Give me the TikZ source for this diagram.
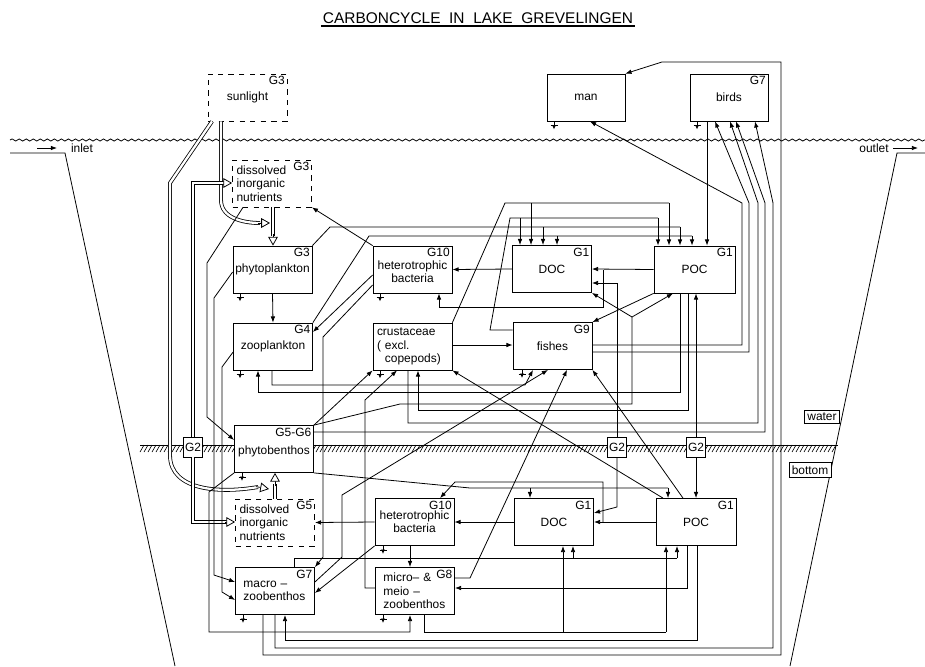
\documentclass[tikz,border=0pt]{standalone}
\usepackage{fontspec}
\setmainfont{Liberation Sans}
\usetikzlibrary{positioning,arrows.meta,decorations.pathmorphing}

\begin{document}
\begin{tikzpicture}[x=0.02cm, y=-0.02cm,
  box/.style={draw, fill=white, minimum width=1.58cm, minimum height=0.94cm, inner sep=1pt, align=center, font=\fontsize{6.8}{7.6}\selectfont},
  leftbox/.style={box, text width=1.42cm, align=left},
  nutbox/.style={leftbox, dashed},
  gtag/.style={label={[anchor=north east, inner sep=1.3pt, font=\fontsize{6.8}{7}\selectfont]north east:#1}},
  g2box/.style={draw, fill=white, minimum width=0.38cm, minimum height=0.4cm, inner sep=0pt, font=\fontsize{6.8}{7}\selectfont},
  lbl/.style={draw, fill=white, inner sep=1.6pt, font=\fontsize{6.8}{7}\selectfont},
  flow/.style={-{Latex[length=3.5pt,width=2.6pt]}, line width=0.45pt},
  wide/.style={double, double distance=1.3pt, line width=0.45pt},
  ophead/.style={-{Triangle[fill=white,length=5pt,width=5.5pt]}, line width=0.45pt},
  every path/.style={line width=0.45pt}]
\useasboundingbox (0,0) rectangle (925,666);

\node[font=\fontsize{8.8}{10}\selectfont, inner sep=1pt] (title) at (478,18) {CARBONCYCLE\ \ IN\ \ LAKE\ \ GREVELINGEN};
\draw[line width=1pt] (title.south west) -- (title.south east);

\draw[decorate, decoration={snake, amplitude=0.6pt, segment length=4pt}] (10,140) -- (925,140);
\draw (140,445) -- (838,445);
\foreach \xx in {140,144,...,832}
  \draw[line width=0.35pt] (\xx,452) -- (\xx+4,445);
\draw (10,153) -- (65,153) -- (175,666);
\draw (925,153) -- (897,153) -- (790,666);

\node[font=\fontsize{6.8}{7}\selectfont] (inlet) at (82,148) {inlet};
\coordinate (inflow) at (37,148);
\draw[flow] (inflow) -- (57,148);
\node[font=\fontsize{6.8}{7}\selectfont] (outlet) at (874,148) {outlet};
\coordinate (outflow) at (918,148);
\draw[flow] (893,148) -- (outflow);
\node[lbl] (water) at (822,417) {water};
\node[lbl] (bottom) at (810,470) {bottom};

\node[box, dashed, gtag=G3] (sun) at (247.5,97.5) {sunlight};
\node[box, minimum width=1.56cm] (man) at (586,97.5) {man};
\node[box, minimum width=1.56cm, gtag=G7] (birds) at (729,97.5) {birds};
\node[nutbox, gtag=G3] (nutw) at (272,183.5) {dissolved\\inorganic\\nutrients};
\node[box, gtag=G3] (phyto) at (272.5,269.5) {phytoplankton};
\node[box, gtag=G10] (bacw) at (412.5,269.5) {\\heterotrophic\\bacteria};
\node[box, gtag=G1] (docw) at (552,269) {DOC};
\node[box, minimum width=1.62cm, gtag=G1] (pocw) at (694.5,269.5) {POC};
\node[box, gtag=G4] (zoo) at (273,346.5) {zooplankton};
\node[leftbox] (crust) at (412.5,346.5) {crustaceae\\( excl.\\\ \ copepods)};
\node[box, gtag=G9] (fish) at (552.5,346) {fishes};
\node[box, gtag=G5-G6] (phytob) at (274,449) {\\phytobenthos};
\node[nutbox, gtag=G5] (nutb) at (275,522.5) {dissolved\\inorganic\\nutrients};
\node[box, gtag=G10] (bacb) at (414.5,522) {heterotrophic\\bacteria};
\node[box, gtag=G1] (docb) at (554,522) {DOC};
\node[box, minimum width=1.6cm, gtag=G1] (pocb) at (696,522) {POC};
\node[leftbox, gtag=G7] (macro) at (275,591) {\ macro --\\\ zoobenthos};
\node[leftbox, gtag=G8] (micro) at (415,591) {\ micro-- \&\\\ meio --\\\ zoobenthos};
\node[g2box] (g2a) at (193,447) {G2};
\node[g2box] (g2b) at (617,447) {G2};
\node[g2box] (g2c) at (696,447) {G2};

\draw[wide] (212,0 |- sun.south) -- (170,183) -- (170,455) to[out=-90,in=190] (258,487);
\draw[ophead] (256,486.6) -- (269,489);
\draw[wide] (221,0 |- sun.south) -- (221,200) to[out=-90,in=180] (260,223);
\draw[ophead] (258,223) -- (270,223);
\draw[wide] (273,0 |- nutw.south) -- (273,236);
\draw[ophead] (273,234) -- (273,0 |- phyto.north);
\draw[wide] (275,0 |- nutb.north) -- (275,484);
\draw[ophead] (275,486) -- (275,0 |- phytob.south);
\draw[wide] (g2a.north) -- (193,183) -- (226,183);
\draw[ophead] (224,183) -- (nutw.west |- 0,183);
\draw[wide] (g2a.south) -- (193,522) -- (227,522);
\draw[ophead] (225,522) -- (nutb.west |- 0,522);

\draw[flow] (phyto.south) -- (zoo.north);
\draw[flow] (bacw.north west) -- (nutw.south east);
\draw[flow] (docw.west) -- (bacw.east);
\draw[flow] (pocw.west) -- (docw.east);
\draw[flow] (birds.south -| 707,0) -- (707,0 |- pocw.north);
\draw (crust.north east) -- (505,203) -- (669,203);
\draw[flow] (531,203) -- (531,0 |- docw.north);
\draw[flow] (669,203) -- (669,0 |- pocw.north);
\draw (fish.west |- 0,330) -- (490,330) -- (510,218) -- (658,218);
\draw[flow] (520,218) -- (520,0 |- docw.north);
\draw[flow] (658,218) -- (658,0 |- pocw.north);
\draw (phyto.north east) -- (330,227) -- (680,227);
\draw[flow] (543,227) -- (543,0 |- docw.north);
\draw[flow] (680,227) -- (680,0 |- pocw.north);
\draw (zoo.north east) -- (369,236) -- (692,236);
\draw[flow] (557,236) -- (557,0 |- docw.north);
\draw[flow] (692,236) -- (692,0 |- pocw.north);
\draw[flow] (bacw.west |- 0,275) -- (zoo.east |- 0,332);
\draw[flow] (bacw.west |- 0,285) -- (323,337) -- (323,557) -- (macro.north east);
\draw[flow] (603,0 |- pocw.west) -- (603,307) -- (439,307) -- (439,0 |- bacw.south);
\draw[flow] (pocw.south west) -- (fish.north east);
\draw[flow] (crust.east |- 0,345) -- (fish.west |- 0,345);
\draw[flow] (fish.east |- 0,345) -- (742,345) -- (742,203) -- (590,0 |- man.south);
\draw[flow] (fish.east |- 0,352) -- (749,352) -- (749,203) -- (715,0 |- birds.south);
\draw[flow] (408,0 |- crust.south) -- (408,423) -- (758,423) -- (758,203) -- (730,0 |- birds.south);
\draw[flow] (phytob.east |- 0,432) -- (765,432) -- (765,203) -- (736,0 |- birds.south);
\draw[flow] (275,0 |- macro.south) -- (275,648) -- (773,648) -- (773,203) -- (755,0 |- birds.south);
\draw[flow] (263,0 |- macro.south) -- (263,655) -- (781,655) -- (781,62) -- (662,62) -- (man.north east);
\draw[flow] (272,0 |- zoo.south) -- (272,385) -- (525,385) -- (533,0 |- fish.south);
\draw[flow] (680,0 |- pocw.south) -- (680,392) -- (258,392) -- (258,0 |- zoo.south);
\draw[flow] (688,0 |- pocw.south) -- (688,410) -- (418,410) -- (418,0 |- crust.south);
\draw[flow] (phytob.north east) -- (crust.south west);
\draw (phytob.north east) -- (400,404) -- (632,404) -- (632,317);
\draw[flow] (632,317) -- (docw.south east);
\draw[flow] (632,317) -- (673,0 |- pocw.south);
\draw[flow] (g2b.north) -- (617,283) -- (docw.east |- 0,283);
\draw[flow] (g2b.south) -- (617,507) -- (docb.east |- 0,513);
\draw[flow] (g2c.north) -- (g2c.north |- pocw.south);
\draw[flow] (g2c.south) -- (g2c.south |- pocb.north);

\draw[flow] (243,0 |- nutw.south) -- (207,263) -- (207,417) -- (phytob.west |- 0,440);
\draw[flow] (phyto.west |- 0,272) -- (214,298) -- (214,575) -- (macro.west |- 0,582);
\draw[flow] (zoo.west |- 0,352) -- (222,367) -- (222,592) -- (macro.west |- 0,600);
\draw[flow] (phytob.south west) -- (209,492) -- (209,632) -- (410,632) -- (410,0 |- micro.south);

\draw[flow] (bacb.west) -- (nutb.east);
\draw[flow] (docb.west) -- (bacb.east);
\draw[flow] (pocb.west) -- (docb.east);
\draw[flow] (410,0 |- bacb.south) -- (410,0 |- micro.north);
\draw[flow] (bacb.south west) -- (macro.east |- 0,593);
\draw[flow] (603,0 |- pocb.west) -- (603,482) -- (455,482) -- (440,0 |- bacb.north);
\draw (phytob.south east) -- (470,488) -- (668,488);
\draw[flow] (530,488) -- (530,0 |- docb.north);
\draw[flow] (668,488) -- (668,0 |- pocb.north);
\draw (294,0 |- macro.north) -- (294,558) -- (677,558);
\draw[flow] (573,558) -- (573,0 |- docb.south);
\draw[flow] (677,558) -- (677,0 |- pocb.south);
\draw (424,0 |- micro.south) -- (424,632) -- (666,632);
\draw[flow] (563,632) -- (563,0 |- docb.south);
\draw[flow] (666,632) -- (666,0 |- pocb.south);
\draw[flow] (687,0 |- pocb.south) -- (687,588) -- (micro.east |- 0,588);
\draw[flow] (697,0 |- pocb.south) -- (697,640) -- (285,640) -- (285,0 |- macro.south);
\draw[flow] (micro.west |- 0,588) -- (365,588) -- (365,400) -- (397,0 |- crust.south);
\draw[flow] (micro.east |- 0,578) -- (470,578) -- (567,0 |- fish.south);
\draw[flow] (macro.east |- 0,582) -- (342,557) -- (342,495) -- (548,0 |- fish.south);
\draw[flow] (683,0 |- pocb.north) -- (fish.south east);
\draw[flow] (663,0 |- pocb.north) -- (crust.south east);

\foreach \nd/\xx in {phyto/240, zoo/240, bacw/380, crust/380, fish/522, phytob/242, bacb/383, macro/243, micro/383, man/554, birds/697} {
  \draw[-{Latex[length=2.5pt,width=2.5pt]}] (\xx,0 |- \nd.south) -- ++(0,8);
  \draw (\xx,0 |- \nd.south) ++(-3.5,4) -- ++(7,0);
}
\end{tikzpicture}
\end{document}
